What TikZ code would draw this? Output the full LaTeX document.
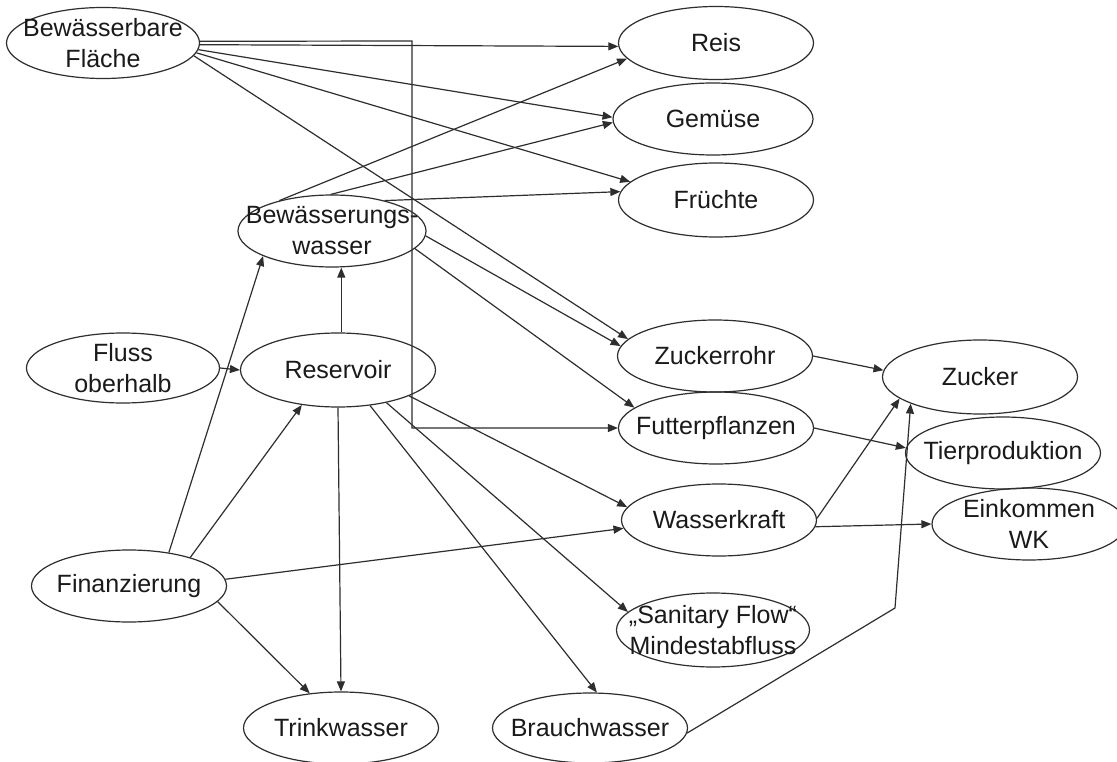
\documentclass[tikz,border=0pt]{standalone}
\usepackage{fontspec}
\setmainfont{Liberation Sans}
\usetikzlibrary{shapes.geometric,arrows.meta}
\definecolor{lc}{HTML}{2E2E2E}
\definecolor{tc}{HTML}{1A1A1A}
\begin{document}
\begin{tikzpicture}[x=1pt,y=-1pt,
  el/.style={ellipse, draw=lc, line width=1.2pt, minimum width=195pt, minimum height=72pt, inner sep=0pt},
  tx/.style={font=\fontsize{25}{31}\selectfont, text=tc, align=center, inner sep=0pt},
  arr/.style={draw=lc, line width=1.2pt, -{Triangle[length=10pt,width=8pt]}},
  ln/.style={draw=lc, line width=1.2pt}]
\fill[white] (0,0) rectangle (1117,762);
\useasboundingbox (0,0) rectangle (1117,762);
% nodes
\node[el, minimum width=193pt, minimum height=71pt, label={[tx]center:{Bewässerbare\\Fläche}}] (fl) at (103,43) {};
\node[el, minimum height=73pt, label={[tx]center:Reis}] (reis) at (716,43) {};
\node[el, minimum width=200pt, label={[tx]center:Gemüse}] (gem) at (713,119) {};
\node[el, minimum height=74pt, label={[tx]center:Früchte}] (fru) at (716,200) {};
\node[el, minimum width=188pt, label={[tx]center:{Bewässerungs-\\wasser}}] (bw) at (332,231) {};
\node[el, minimum width=193pt, minimum height=70pt, label={[tx]center:{Fluss\\oberhalb}}] (fo) at (123,368) {};
\node[el, minimum height=74pt, label={[tx]center:Reservoir}] (res) at (338,370) {};
\node[el, label={[tx]center:Zuckerrohr}] (zr) at (715,356) {};
\node[el, label={[tx]center:Futterpflanzen}] (fp) at (716,428) {};
\node[el, minimum height=74pt, label={[tx]center:Zucker}] (zu) at (980,377) {};
\node[el, label={[tx]center:Tierproduktion}] (tp) at (1003,453) {};
\node[el, label={[tx]center:Wasserkraft}] (wk) at (719,520) {};
\node[el, minimum width=194pt, label={[tx]center:{Einkommen\\WK}}] (ek) at (1029,524) {};
\node[el, label={[tx]center:Finanzierung}] (fin) at (129,586) {};
\node[el, minimum width=193pt, minimum height=74pt, label={[tx]center:{„Sanitary Flow“\\Mindestabfluss}}] (san) at (713,630) {};
\node[el, label={[tx]center:Trinkwasser}] (tw) at (341,728) {};
\node[el, minimum height=70pt, label={[tx]center:Brauchwasser}] (bw2) at (590,728) {};
% helper coordinates
\coordinate (c1) at (412,41);
\coordinate (c2) at (895,608);
% connectors from Bewässerbare Fläche
\draw[arr] (fl.1) -- (c1) |- (fp.west);
\draw[arr] (fl.-1) -- (reis.182);
\draw[arr] (fl.-4) -- (gem.179);
\draw[arr] (fl.-6) -- (fru.168);
\draw[arr] (fl.-8) -- (zr.169);
% from Bewässerungswasser
\draw[arr] (bw.150) -- (reis.190);
\draw[arr] (bw.92) -- (gem.182);
\draw[arr] (bw.30) -- (fru.175);
\draw[arr] (bw.-3) -- (zr.174);
\draw[arr] (bw.-12) -- (fp.166);
% Reservoir
\draw[arr] (res.85) -- (res.85 |- bw.south);
\draw[arr] (fo.east) -- (res.west);
\draw[arr] (res.south) -- (tw.north);
\draw[arr] (res.-48) -- (bw2.79);
\draw[arr] (res.-34) -- (san.168);
\draw[arr] (res.-20) -- (wk.172);
% Finanzierung
\draw[arr] (fin.40) -- (bw.200);
\draw[arr] (fin.25) -- (res.224);
\draw[arr] (fin.4) -- (wk.185);
\draw[arr] (fin.-10) -- (tw.132);
% right side
\draw[arr] (zr.east) -- (zu.176);
\draw[arr] (fp.east) -- (tp.177);
\draw[arr] (wk.1) -- (zu.195);
\draw[arr] (wk.-4) -- (ek.west);
\draw[arr] (bw2.-3) -- (c2) -- (zu.201);
\end{tikzpicture}
\end{document}
